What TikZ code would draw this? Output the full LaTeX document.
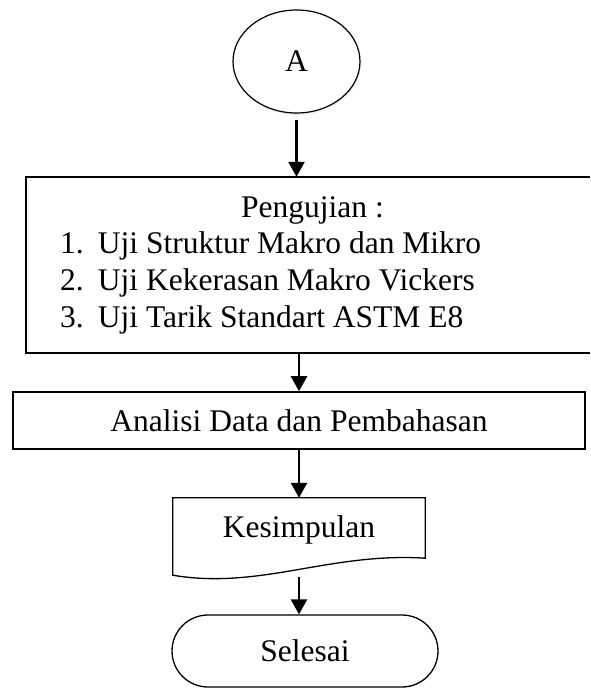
\documentclass[tikz,border=0pt]{standalone}
\usepackage{fontspec}
\setmainfont{Liberation Serif}
\usetikzlibrary{arrows.meta,shapes.geometric,shapes.misc,shadows}

\begin{document}
\begin{tikzpicture}[x=1pt,y=-1pt,
  every node/.style={font=\fontsize{31.5}{37}\selectfont, inner sep=0pt},
  flow/.style={-{Triangle[width=16pt,length=15pt]}, line width=2.6pt},
  kotak/.style={draw, rectangle, line width=1.6pt}]
\useasboundingbox (0,0) rectangle (590,688);

% Konektor A
\node[draw, ellipse, line width=1.2pt, fill=white, minimum width=127, minimum height=103,
  drop shadow={opacity=0.12, shadow xshift=1pt, shadow yshift=-2pt}] (konA) at (296.5,61.5) {A};

% Pengujian (sisi kanan terpotong)
\node[minimum width=564, minimum height=176] (uji) at (308,265) {};
\draw[line width=1.6pt] (uji.north east) -- (uji.north west) -- (uji.south west) -- (uji.south east);
\node[anchor=base] (judul) at (312.5,217) {Pengujian :};
\node[anchor=base west] (uji1) at (60,253) {\makebox[1.2em][l]{1.}Uji Struktur Makro dan Mikro};
\node[anchor=base west] (uji2) at (60,290) {\makebox[1.2em][l]{2.}Uji Kekerasan Makro Vickers};
\node[anchor=base west] (uji3) at (60,327) {\makebox[1.2em][l]{3.}Uji Tarik Standart ASTM E8};

% Analisis
\node[kotak, minimum width=572, minimum height=57, text depth=0pt] (analisis) at (299,420.5) {Analisi Data dan Pembahasan};

% Kesimpulan (dokumen)
\node[minimum width=252, minimum height=64] (kes) at (299,530) {Kesimpulan};
\draw[line width=1.3pt] ([yshift=-13pt]kes.south west) -- (kes.north west) -- (kes.north east)
  -- ([yshift=4pt]kes.south east) .. controls (330,552) and (260,590) .. ([yshift=-13pt]kes.south west) -- cycle;

% Selesai
\node[draw, rounded rectangle, line width=1.3pt, minimum width=266, minimum height=72] (selesai) at (305,651) {Selesai};

% Konektor
\draw[flow, shorten <=6pt] (konA) -- (konA |- uji.north);
\draw[flow] (uji.south -| analisis.north) -- (analisis.north);
\draw[flow] (analisis.south) -- (analisis.south |- kes.north);
\draw[flow, shorten <=15pt] (kes.south) -- (kes.south |- selesai.north);
\end{tikzpicture}
\end{document}
